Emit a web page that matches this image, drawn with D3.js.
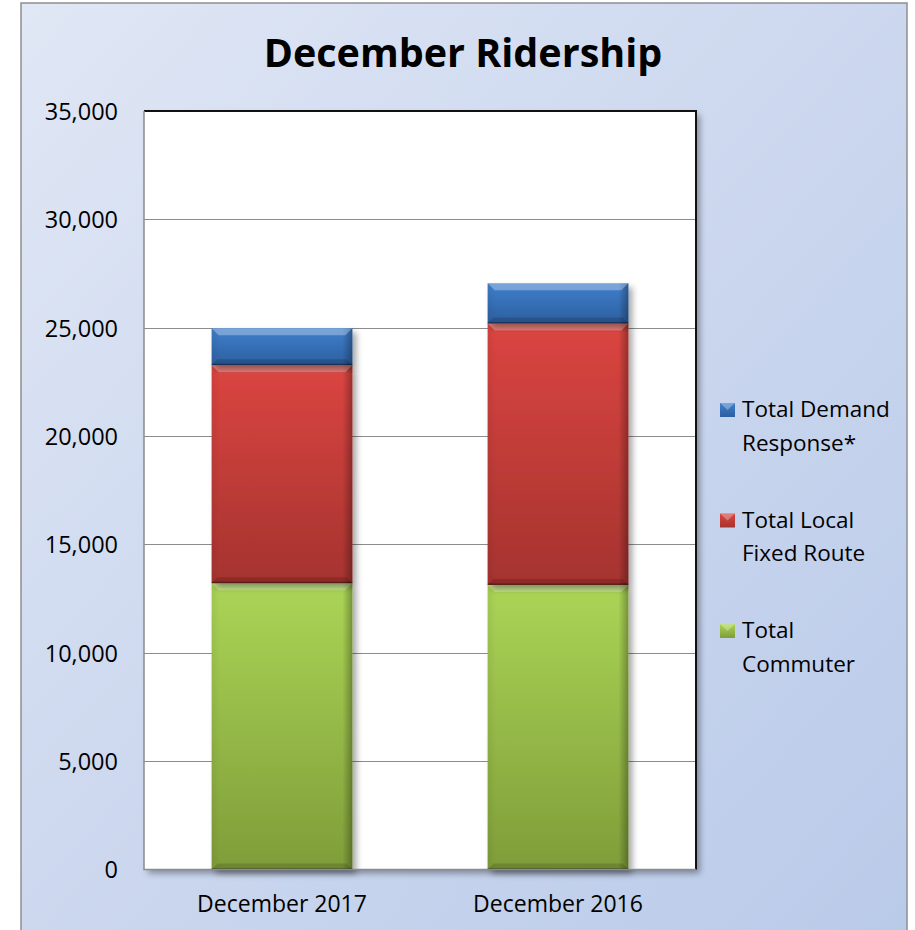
<!DOCTYPE html>
<html>
<head>
<meta charset="utf-8">
<script src="https://cdn.jsdelivr.net/npm/d3@7"></script>
<style>
  html, body { margin: 0; padding: 0; background: #fff; }
  svg text { font-family: "Open Sans", "Noto Sans", sans-serif; fill: #000; }
</style>
</head>
<body>
<div id="chart"></div>
<script>
// values
const categories = ['December 2017', 'December 2016'];
const commuter = [13210, 13130];
const localFixedRoute = [10060, 12060];
const demandResponse = [1710, 1860];
const yTicks = [0, 5000, 10000, 15000, 20000, 25000, 30000, 35000];
const seriesKeys = ['commuter', 'local', 'demand'];
const legendLines = [
  ['Total Demand', 'Response*'],
  ['Total Local', 'Fixed Route'],
  ['Total', 'Commuter']
];

const W = 915, H = 930;
const frame = { left: 21, top: 3, right: 907 };
const plot = { left: 144, top: 111, right: 696, bottom: 869.5 };

// colours: [light top, dark bottom]
const colors = {
  commuter: ['#abd556', '#7f9d39'],
  local: ['#db4541', '#a5332f'],
  demand: ['#3f7fcc', '#2d5f9f']
};

const rows = categories.map((c, i) => ({
  category: c,
  commuter: commuter[i],
  local: localFixedRoute[i],
  demand: demandResponse[i]
}));

const svg = d3.select('#chart').append('svg')
  .attr('width', W)
  .attr('height', H);

const defs = svg.append('defs');

const bg = defs.append('linearGradient')
  .attr('id', 'bg')
  .attr('x1', 0).attr('y1', 0).attr('x2', 1).attr('y2', 1);
bg.append('stop').attr('offset', 0).attr('stop-color', '#e0e7f5');
bg.append('stop').attr('offset', 0.55).attr('stop-color', '#cad6ee');
bg.append('stop').attr('offset', 1).attr('stop-color', '#b9cae9');

seriesKeys.forEach(k => {
  const g = defs.append('linearGradient')
    .attr('id', 'grad-' + k)
    .attr('x1', 0).attr('y1', 0).attr('x2', 0).attr('y2', 1);
  g.append('stop').attr('offset', 0).attr('stop-color', colors[k][0]);
  g.append('stop').attr('offset', 1).attr('stop-color', colors[k][1]);
});

const edge = defs.append('linearGradient')
  .attr('id', 'edge')
  .attr('x1', 0).attr('y1', 0).attr('x2', 1).attr('y2', 0);
edge.append('stop').attr('offset', 0).attr('stop-color', '#000').attr('stop-opacity', 0.06);
edge.append('stop').attr('offset', 0.06).attr('stop-color', '#000').attr('stop-opacity', 0);
edge.append('stop').attr('offset', 0.93).attr('stop-color', '#000').attr('stop-opacity', 0);
edge.append('stop').attr('offset', 1).attr('stop-color', '#000').attr('stop-opacity', 0.3);

const shadow = defs.append('filter')
  .attr('id', 'shadow')
  .attr('x', '-10%').attr('y', '-10%').attr('width', '130%').attr('height', '130%');
shadow.append('feDropShadow')
  .attr('dx', 4).attr('dy', 4)
  .attr('stdDeviation', 3)
  .attr('flood-color', '#000')
  .attr('flood-opacity', 0.35);

// chart background
svg.append('rect')
  .attr('x', frame.left)
  .attr('y', frame.top)
  .attr('width', frame.right - frame.left)
  .attr('height', H + 20)
  .attr('fill', 'url(#bg)')
  .attr('stroke', '#8f8f8f')
  .attr('stroke-width', 1.5);

svg.append('text')
  .attr('x', 463)
  .attr('y', 67)
  .attr('text-anchor', 'middle')
  .style('font-size', '39.5px')
  .style('font-weight', 'bold')
  .text('December Ridership');

// scales
const x = d3.scaleBand()
  .domain(categories)
  .range([plot.left, plot.right])
  .paddingInner(0.49)
  .paddingOuter(0.245);

const y = d3.scaleLinear()
  .domain([0, 35000])
  .range([plot.bottom, plot.top]);

// plot area
svg.append('rect')
  .attr('x', plot.left)
  .attr('y', plot.top)
  .attr('width', plot.right - plot.left)
  .attr('height', plot.bottom - plot.top)
  .attr('fill', '#fff')
  .attr('filter', 'url(#shadow)');

svg.append('g')
  .attr('class', 'grid')
  .selectAll('line')
  .data(yTicks.filter(t => t > 0 && t < 35000))
  .enter()
  .append('line')
  .attr('x1', plot.left)
  .attr('x2', plot.right)
  .attr('y1', d => Math.round(y(d)) + 0.5)
  .attr('y2', d => Math.round(y(d)) + 0.5)
  .attr('stroke', '#8c8c8c')
  .attr('stroke-width', 1);

// stacked bars
const stack = d3.stack().keys(seriesKeys)(rows);

const layers = svg.append('g')
  .attr('class', 'bars')
  .selectAll('.layer')
  .data(stack)
  .enter()
  .append('g')
  .attr('class', 'layer');

const seg = layers.selectAll('.seg')
  .data(d => d.map(v => ({ key: d.key, v })))
  .enter()
  .append('g')
  .attr('class', 'seg');

seg.append('rect')
  .attr('x', d => x(d.v.data.category))
  .attr('y', d => y(d.v[1]))
  .attr('width', x.bandwidth())
  .attr('height', d => y(d.v[0]) - y(d.v[1]))
  .attr('fill', d => 'url(#grad-' + d.key + ')')
  .attr('filter', 'url(#shadow)');

seg.append('rect')
  .attr('x', d => x(d.v.data.category))
  .attr('y', d => y(d.v[1]))
  .attr('width', x.bandwidth())
  .attr('height', d => y(d.v[0]) - y(d.v[1]))
  .attr('fill', 'url(#edge)');

// bevel: light top strip, dark bottom strip
seg.append('path')
  .attr('d', d => {
    const x0 = x(d.v.data.category), x1 = x0 + x.bandwidth();
    const t = y(d.v[1]), b = 7;
    return `M${x0},${t}L${x1},${t}L${x1 - b},${t + b}L${x0 + b},${t + b}Z`;
  })
  .attr('fill', '#fff')
  .attr('fill-opacity', 0.3);

seg.append('path')
  .attr('d', d => {
    const x0 = x(d.v.data.category), x1 = x0 + x.bandwidth();
    const bt = y(d.v[0]), b = 6;
    return `M${x0},${bt}L${x1},${bt}L${x1 - b},${bt - b}L${x0 + b},${bt - b}Z`;
  })
  .attr('fill', '#000')
  .attr('fill-opacity', 0.15);

seg.append('rect')
  .attr('x', d => x(d.v.data.category))
  .attr('y', d => y(d.v[0]) - 1.5)
  .attr('width', x.bandwidth())
  .attr('height', 1.5)
  .attr('fill', '#000')
  .attr('fill-opacity', 0.35);

// plot border: grey left/bottom, dark top/right
const border = svg.append('g').attr('class', 'border');
border.append('path')
  .attr('d', `M${plot.left},${plot.top}L${plot.right},${plot.top}L${plot.right},${plot.bottom}`)
  .attr('fill', 'none')
  .attr('stroke', '#111')
  .attr('stroke-width', 2);
border.append('path')
  .attr('d', `M${plot.left},${plot.top}L${plot.left},${plot.bottom}L${plot.right},${plot.bottom}`)
  .attr('fill', 'none')
  .attr('stroke', '#8c8c8c')
  .attr('stroke-width', 1.5);

// y axis labels
const fmt = d3.format(',');
const yAxis = d3.axisLeft(y)
  .tickValues(yTicks)
  .tickFormat(fmt)
  .tickSize(0)
  .tickPadding(26);

svg.append('g')
  .attr('class', 'y axis')
  .attr('transform', `translate(${plot.left}, 0)`)
  .call(yAxis)
  .call(g => g.select('.domain').remove())
  .call(g => g.selectAll('text')
    .attr('dy', '0.36em')
    .style('font-size', '23.5px')
    .style('font-family', '"Open Sans", sans-serif')
    .attr('fill', '#000'));

// x axis labels
const xAxis = d3.axisBottom(x)
  .tickSize(0)
  .tickPadding(0);

svg.append('g')
  .attr('class', 'x axis')
  .attr('transform', `translate(0, ${plot.bottom})`)
  .call(xAxis)
  .call(g => g.select('.domain').remove())
  .call(g => g.selectAll('text')
    .attr('dy', null)
    .attr('y', 42)
    .style('font-size', '23px')
    .style('font-family', '"Open Sans", sans-serif')
    .attr('fill', '#000'));

// legend
const legendKeys = ['demand', 'local', 'commuter'];
const legend = svg.append('g')
  .attr('class', 'legend')
  .attr('transform', 'translate(720, 417)');

legendKeys.forEach((k, i) => {
  const item = legend.append('g')
    .attr('transform', `translate(0, ${i * 110.5})`);
  item.append('rect')
    .attr('x', 0)
    .attr('y', -14)
    .attr('width', 15)
    .attr('height', 14)
    .attr('fill', 'url(#grad-' + k + ')');
  item.append('path')
    .attr('d', 'M0,-14L15,-14L7.5,-7Z')
    .attr('fill', '#fff')
    .attr('fill-opacity', 0.3);
  item.selectAll('text')
    .data(legendLines[i])
    .enter()
    .append('text')
    .attr('x', 22)
    .attr('y', (d, j) => j * 33.5)
    .style('font-size', '22.5px')
    .text(d => d);
});
</script>
</body>
</html>
